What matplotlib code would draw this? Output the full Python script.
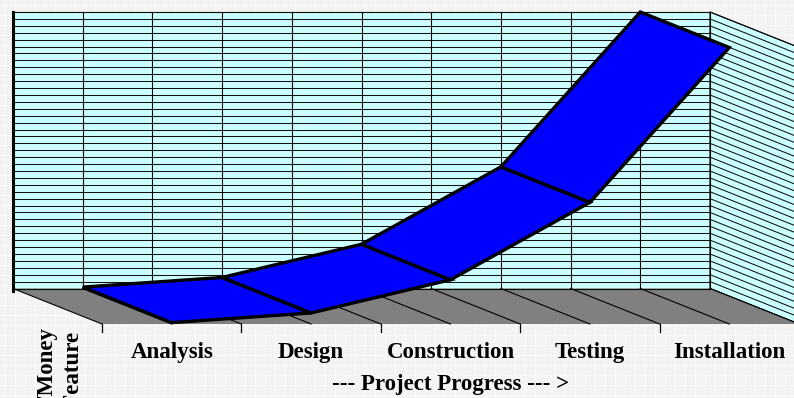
import numpy as np
import matplotlib
matplotlib.use('Agg')
import matplotlib.pyplot as plt
from matplotlib.patches import Polygon

categories = ['Analysis', 'Design', 'Construction', 'Testing', 'Installation']
values = [1, 8, 32, 88, 200]
ymax = 200
ystep = 5
xlabel = '--- Project Progress --- >'
ylabel = 'Time/Money\nper Feature'

# layout of the fake 3d box, in pixels
x0, y0 = 13, 288.5
wall_w, wall_h = 697, 276.5
ddx, ddy = 89, 35.5
ncat = len(categories)
cw = wall_w / ncat


def proj(c, v, z):
    return (x0 + c * cw + z * ddx, y0 - v / ymax * wall_h + z * ddy)


fig = plt.figure(figsize=(7.94, 3.98), dpi=100)
fig.patch.set_facecolor('#f3f3f3')

bg = fig.add_axes([0, 0, 1, 1])
bg.set_xlim(0, 794)
bg.set_ylim(398, 0)
bg.set_facecolor('#f3f3f3')
bg.set_xticks(np.arange(5, 794, 10))
bg.set_yticks(np.arange(5, 398, 10))
bg.grid(True, color='white', lw=0.8, alpha=0.5)
bg.tick_params(length=0, labelbottom=False, labelleft=False)
for s in bg.spines.values():
    s.set_visible(False)

ax = fig.add_axes([0, 0, 1, 1])
ax.set_xlim(0, 794)
ax.set_ylim(398, 0)
ax.axis('off')

wall_col = '#ccffff'
gridv = np.arange(0, ymax + 0.1, ystep)
gridc = np.arange(0, ncat + 0.01, 0.5)

# back wall
ax.add_patch(Polygon([proj(0, 0, 0), proj(ncat, 0, 0), proj(ncat, ymax, 0), proj(0, ymax, 0)],
                     closed=True, fc=wall_col, ec='black', lw=0.8, zorder=1))
for v in gridv:
    a, b = proj(0, v, 0), proj(ncat, v, 0)
    ax.plot([a[0], b[0]], [a[1], b[1]], color='#111111', lw=0.75, zorder=2)
for c in gridc:
    a, b = proj(c, 0, 0), proj(c, ymax, 0)
    ax.plot([a[0], b[0]], [a[1], b[1]], color='black', lw=0.8, zorder=2)

# side wall
ax.add_patch(Polygon([proj(ncat, 0, 0), proj(ncat, 0, 1), proj(ncat, ymax, 1), proj(ncat, ymax, 0)],
                     closed=True, fc=wall_col, ec='black', lw=0.8, zorder=1))
for v in gridv:
    a, b = proj(ncat, v, 0), proj(ncat, v, 1)
    ax.plot([a[0], b[0]], [a[1], b[1]], color='#111111', lw=0.75, zorder=2)

# floor
ax.add_patch(Polygon([proj(0, 0, 0), proj(ncat, 0, 0), proj(ncat, 0, 1), proj(0, 0, 1)],
                     closed=True, fc='#808080', ec='none', zorder=3))
for c in gridc:
    a, b = proj(c, 0, 0), proj(c, 0, 1)
    ax.plot([a[0], b[0]], [a[1], b[1]], color='black', lw=0.8, zorder=3)
a, b = proj(0, 0, 0), proj(ncat, 0, 0)
ax.plot([a[0], b[0]], [a[1], b[1]], color='black', lw=0.8, zorder=3)

# thick value axis edge
a, b = proj(0, 0, 0), proj(0, ymax, 0)
ax.plot([a[0], b[0]], [a[1] + 2, b[1]], color='black', lw=2.2, zorder=4)

# ribbon
for i in range(ncat - 1):
    c1, c2 = i + 0.5, i + 1.5
    pts = [proj(c1, values[i], 0), proj(c2, values[i + 1], 0),
           proj(c2, values[i + 1], 1), proj(c1, values[i], 1)]
    ax.add_patch(Polygon(pts, closed=True, fc='#0000ff', ec='black', lw=2.4,
                         joinstyle='miter', zorder=5))

# category ticks and labels on front edge
for c in range(ncat + 1):
    a = proj(c, 0, 1)
    ax.plot([a[0], a[0]], [a[1], a[1] + 8], color='black', lw=0.9, zorder=4)

font = dict(family=['Liberation Serif', 'DejaVu Serif'], fontweight='bold', fontsize=16.5)
for i, name in enumerate(categories):
    a = proj(i + 0.5, 0, 1)
    ax.text(a[0], 358, name, ha='center', va='baseline', **font)

mid = proj(ncat / 2, 0, 1)
ax.text(mid[0], 390, xlabel, ha='center', va='baseline', **font)

ax.text(60, 327, ylabel, rotation=90, ha='center', va='top', multialignment='center',
        linespacing=1.35, **font)

fig.savefig('out.png', dpi=100, facecolor=fig.get_facecolor())
